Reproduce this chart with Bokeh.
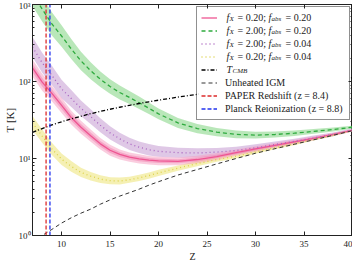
import numpy as np
from bokeh.plotting import figure
from bokeh.models import (Legend, LegendItem, LogAxis, LinearAxis, FixedTicker,
                          CustomJSTickFormatter)
from bokeh.core.properties import value
from bokeh.embed import file_html
from bokeh.resources import INLINE

# ---------------- data ----------------
z = [7, 8, 9, 10, 11, 12, 13, 14, 15, 16, 17, 18, 19, 20, 22, 24, 26, 28, 30, 32, 34, 36, 38, 40]

T_pink = [150, 98, 70, 49, 34, 25.5, 19.8, 15.5, 12.8, 11.3, 10.4, 9.9, 9.5, 9.3, 9.2, 9.7,
          10.6, 11.9, 13.3, 14.8, 16.4, 18.3, 20.5, 23.3]
T_green = [1380, 870, 560, 390, 265, 185, 138, 107, 86, 72, 62, 53, 45, 38, 29, 24.5,
           22.0, 20.6, 20.1, 20.5, 21.3, 22.5, 23.8, 25.5]
T_purple = [280, 175, 120, 80, 60, 45, 35, 27, 21.5, 18, 15.5, 14, 13, 12.4, 11.9, 11.8,
            12.1, 12.7, 13.8, 15.2, 16.7, 18.5, 20.6, 23.5]
T_yellow = [29, 19.5, 13.3, 9.8, 7.9, 6.6, 5.9, 5.4, 5.15, 5.1, 5.3, 5.6, 6.0, 6.5, 7.5,
            8.6, 9.7, 10.7, 12.2, 13.8, 15.6, 17.7, 20.1, 23.1]
T_cmb = [21.8, 24.5, 27.3, 30.0, 32.7, 35.4, 38.2, 40.9, 43.6, 46.3, 49.1, 51.8, 54.5,
         57.2, 62.7, 68.1, 73.6, 79.0, 84.5, 89.9, 95.4, 100.8, 106.3, 111.7]
T_unheated = [0.82, 1.0, 1.2, 1.45, 1.7, 1.95, 2.2, 2.55, 2.9, 3.25, 3.6, 4.0, 4.5, 5.0,
              6.1, 7.2, 8.5, 10.0, 11.7, 13.4, 15.3, 17.5, 20.0, 23.0]

# half-widths of the shaded bands (dex)
w_pink = [0.11, 0.11, 0.10, 0.10, 0.09, 0.085, 0.08, 0.075, 0.07, 0.065, 0.06, 0.06, 0.055,
          0.055, 0.05, 0.05, 0.045, 0.04, 0.035, 0.03, 0.03, 0.025, 0.02, 0.015]
w_green = [0.16, 0.16, 0.15, 0.14, 0.13, 0.12, 0.11, 0.10, 0.095, 0.09, 0.085, 0.08, 0.075,
           0.07, 0.065, 0.06, 0.055, 0.05, 0.045, 0.04, 0.035, 0.03, 0.025, 0.02]
w_purple = [0.13, 0.13, 0.125, 0.12, 0.11, 0.10, 0.095, 0.09, 0.085, 0.08, 0.08, 0.075, 0.075,
            0.07, 0.065, 0.06, 0.055, 0.05, 0.045, 0.04, 0.035, 0.03, 0.025, 0.02]
w_yellow = [0.09, 0.085, 0.08, 0.075, 0.07, 0.06, 0.055, 0.05, 0.045, 0.045, 0.04, 0.04, 0.04,
            0.04, 0.035, 0.035, 0.03, 0.03, 0.025, 0.02, 0.02, 0.015, 0.015, 0.01]

z_paper = 8.4
z_planck = 8.8
T_vline = [1, 1000]

fx_vals = ["0.20", "2.00", "2.00", "0.20"]
fabs_vals = ["0.20", "0.20", "0.04", "0.04"]
plain_labels = ["Unheated IGM", "PAPER Redshift (z = 8.4)", "Planck Reionization (z = 8.8)"]

x_ticks = [10, 15, 20, 25, 30, 35, 40]
y_ticks = [1, 10, 100, 1000]

# ---------------- figure ----------------
FONT = "Liberation Serif"
INK = "#222222"
FW, FH = 320, 231
X0, X1, Y0, Y1 = 7, 40, 1, 1000

p = figure(frame_width=FW, frame_height=FH, x_range=(X0, X1), y_range=(Y0, Y1),
           y_axis_type="log", output_backend="svg", toolbar_location=None,
           min_border_left=0, min_border_right=0, min_border_top=4, min_border_bottom=0)
p.grid.visible = False
p.outline_line_color = INK

y_minor = [m * 10 ** e for e in range(0, 3) for m in range(2, 10)]
xt = FixedTicker(ticks=x_ticks, minor_ticks=[])
yt = FixedTicker(ticks=y_ticks, minor_ticks=y_minor)
sup = CustomJSTickFormatter(code="""
const s = {"0": "\u2070", "1": "\u00b9", "2": "\u00b2", "3": "\u00b3", "-": "\u207b"};
const e = Math.round(Math.log10(tick));
return "10" + String(e).split("").map(c => s[c]).join("");
""")


def style(ax):
    ax.axis_line_color = INK
    ax.major_tick_in = 4
    ax.major_tick_out = 0
    ax.minor_tick_in = 2
    ax.minor_tick_out = 0
    ax.major_tick_line_color = INK
    ax.minor_tick_line_color = INK
    ax.major_label_text_font = FONT
    ax.major_label_text_font_size = "9px"
    ax.major_label_text_color = INK
    ax.major_label_standoff = 3
    ax.axis_label_text_font = FONT
    ax.axis_label_text_font_style = "normal"
    ax.axis_label_text_color = INK


xb = p.below[0]
yl = p.left[0]
style(xb)
style(yl)
xb.ticker = xt
yl.ticker = yt
yl.formatter = sup
xb.axis_label = "Z"
xb.axis_label_text_font_size = "10px"
xb.major_label_standoff = 5
xb.axis_label_standoff = 1
yl.axis_label = "T [K]"
yl.axis_label_text_font_size = "11px"
yl.axis_label_standoff = 0
yl.major_label_standoff = 2

top = LinearAxis(ticker=xt)
right = LogAxis(ticker=yt)
for ax in (top, right):
    style(ax)
    ax.major_label_text_font_size = "1px"
    ax.major_label_text_color = None
    ax.major_label_standoff = 0
p.add_layout(top, "above")
p.add_layout(right, "right")

# ---------------- bands ----------------
zz = np.array(z, dtype=float)


def band(T, w, color, alpha, scale=1.0):
    T = np.array(T, dtype=float)
    w = np.array(w, dtype=float) * scale
    p.varea(x=zz, y1=T / 10 ** w, y2=T * 10 ** w, fill_color=color, fill_alpha=alpha)


band(T_green, w_green, "#7fd37f", 0.55)
band(T_purple, w_purple, "#c49ad2", 0.55)
band(T_yellow, w_yellow, "#eee680", 0.6)
band(T_pink, w_pink, "#f59bc0", 0.5)
band(T_pink, w_pink, "#f07aaa", 0.45, 0.5)

# ---------------- lines ----------------
r_pink = p.line(z, T_pink, line_color="#ee5592", line_width=1.3)
r_green = p.line(z, T_green, line_color="#2eaa3e", line_width=1.3, line_dash="4 3")
r_purple = p.line(z, T_purple, line_color="#a964c0", line_width=1.3, line_dash="1 3")
r_yellow = p.line(z, T_yellow, line_color="#ddd24a", line_width=1.3, line_dash="1 3")
r_cmb = p.line(z, T_cmb, line_color="black", line_width=1.3, line_dash="4 2 1 2")
r_unh = p.line(z, T_unheated, line_color="#333333", line_width=1.0, line_dash="4 3")
r_paper = p.line([z_paper, z_paper], T_vline, line_color="#dd2b2b", line_width=1.3, line_dash="4 2")
r_planck = p.line([z_planck, z_planck], T_vline, line_color="#2233ee", line_width=1.3, line_dash="4 2")

# ---------------- legend geometry ----------------
MARGIN, PAD, GW, GH, STAND, LW = 2, 4, 16, 13, 8, 120
LEG_W = 2 * PAD + GW + STAND + LW
LEG_H = 2 * PAD + 8 * GH


def to_data(sx, sy):  # px from frame left / bottom -> data coordinates
    zx = X0 + (X1 - X0) * sx / FW
    ty = 10 ** (np.log10(Y0) + (np.log10(Y1) - np.log10(Y0)) * sy / FH)
    return float(zx), float(ty)


# white legend background (drawn as a glyph so the legend's text can sit on it)
bl = to_data(FW - MARGIN - LEG_W, FH - MARGIN - LEG_H)
tr = to_data(FW - MARGIN, FH - MARGIN)
p.quad(left=[bl[0]], right=[tr[0]], bottom=[bl[1]], top=[tr[1]],
       fill_color="white", line_color=None)

# math-style legend rows
text_x = FW - MARGIN - PAD - LW


def row_y(i):
    return FH - (MARGIN + PAD + GH * i + GH / 2.0)


pieces = {("10px", "italic"): [], ("7px", "italic"): [], ("10px", "normal"): []}


def put(text, dx, i, size="10px", italic=False, dy=0.0):
    xd, yd = to_data(text_x + dx, row_y(i) + dy)
    pieces[(size, "italic" if italic else "normal")].append((xd, yd, text))


for i, (fx, fa) in enumerate(zip(fx_vals, fabs_vals)):
    put("f", 0, i, italic=True)
    put("X", 3, i, size="7px", italic=True, dy=-2)
    put("= " + fx + ";", 11, i)
    put("f", 42, i, italic=True)
    put("abs", 45, i, size="7px", italic=True, dy=-2)
    put("= " + fa, 59, i)

put("T", 0, 4, italic=True)
put("CMB", 6, 4, size="7px", italic=True, dy=-2)

for (size, fstyle), lst in pieces.items():
    p.text(x=[a for a, b, c in lst], y=[b for a, b, c in lst], text=[c for a, b, c in lst],
           text_font=value(FONT), text_font_size=value(size), text_font_style=fstyle,
           text_color=INK, text_baseline="middle", text_align="left")

# ---------------- legend ----------------
renderers = [r_pink, r_green, r_purple, r_yellow, r_cmb, r_unh, r_paper, r_planck]
labels = ["\u2009"] * 5 + plain_labels
items = [LegendItem(label=l, renderers=[r]) for l, r in zip(labels, renderers)]

legend = Legend(items=items, location="top_right", margin=MARGIN, padding=PAD, spacing=0,
                glyph_width=GW, glyph_height=GH, label_height=GH, label_width=LW,
                label_standoff=STAND, label_text_font=FONT, label_text_font_size="10px",
                label_text_color=INK, border_line_color=INK, border_line_width=1,
                background_fill_alpha=0.0)
p.add_layout(legend)

open("out.html", "w").write(file_html(p, INLINE))
